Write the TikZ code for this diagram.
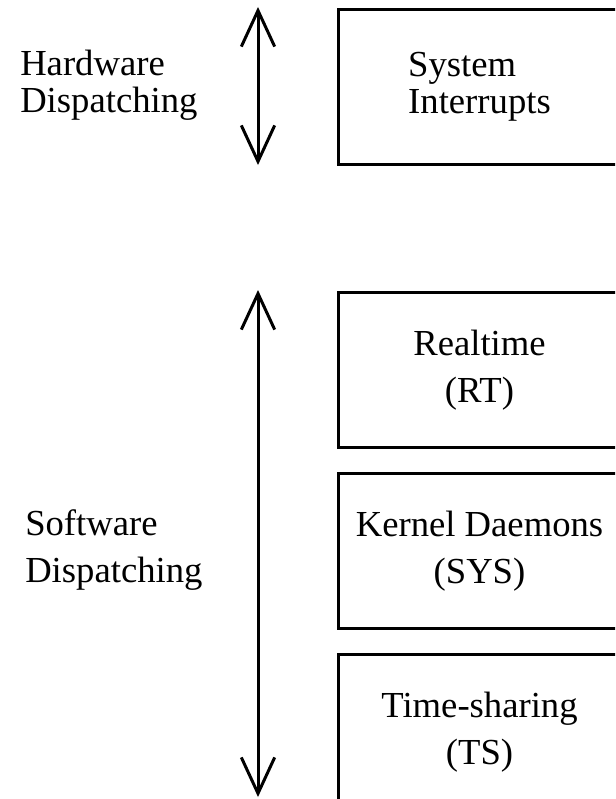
\documentclass[tikz,border=0pt]{standalone}
\usepackage{fontspec}
\setmainfont{Liberation Serif}
\usetikzlibrary{arrows.meta, positioning}

\begin{document}
\begin{tikzpicture}[
  x=0.75pt, y=-0.75pt,
  node distance=17.25pt,
  lvl/.style={rectangle, draw, line width=2.25pt, minimum width=211.5pt,
              minimum height=116.25pt, inner sep=0pt, align=center,
              font=\fontsize{27.5}{35}\selectfont},
  side/.style={inner sep=0pt, align=left, anchor=west,
               font=\fontsize{27.5}{27.75}\selectfont},
  dbl/.style={{Straight Barb[length=27pt, width=25pt]}-{Straight Barb[length=27pt, width=25pt]},
              line width=2.25pt},
]
  \useasboundingbox (0,0) rectangle (615,799);
  \clip (0,0) rectangle (615,799);

  % dispatch levels
  \node[lvl, anchor=north west, align=left, font=\fontsize{27.5}{27.75}\selectfont]
    (intr) at (337,8) {System\\Interrupts};
  \node[lvl, below=93.75pt of intr] (rt) {Realtime\\(RT)};
  \node[lvl, below=of rt] (sys) {Kernel Daemons\\(SYS)};
  \node[lvl, below=of sys] (ts) {Time-sharing\\(TS)};

  % side labels
  \node[side] (hw) at (20,85) {Hardware\\Dispatching};
  \node[side, font=\fontsize{27.5}{35}\selectfont] (sw) at (25,550) {Software\\Dispatching};

  % range arrows
  \coordinate (hwtop) at (258,7);
  \coordinate (hwbot) at (258,165);
  \coordinate (swtop) at (258,290);
  \coordinate (swbot) at (258,797);
  \draw[dbl] (hwtop) -- (hwbot);
  \draw[dbl] (swtop) -- (swbot);
\end{tikzpicture}
\end{document}
